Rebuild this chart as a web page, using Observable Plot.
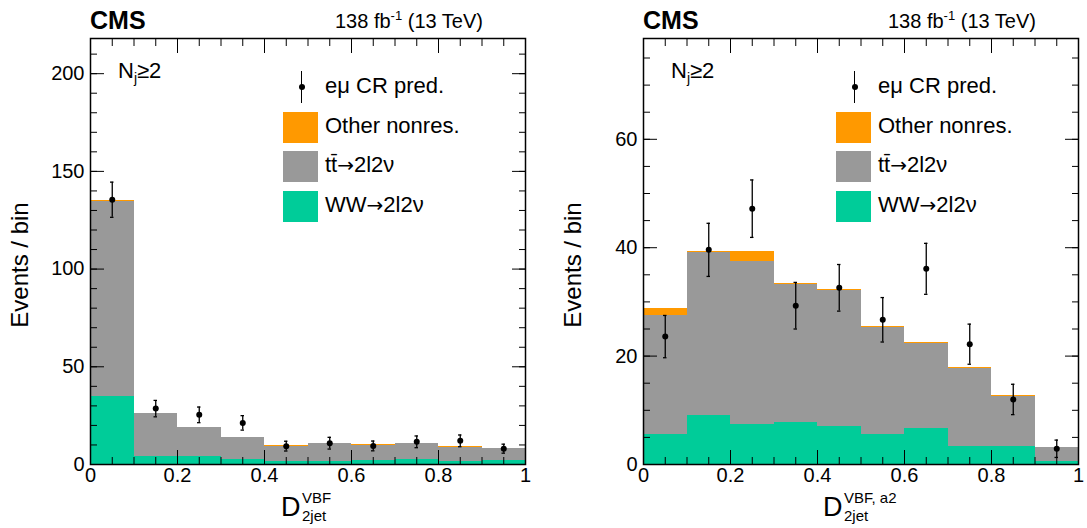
<!DOCTYPE html>
<html><head><meta charset="utf-8">
<script src="https://cdn.jsdelivr.net/npm/d3@7"></script>
<script src="https://cdn.jsdelivr.net/npm/@observablehq/plot@0.6"></script>
<style>
body{margin:0;background:#fff;font-family:"Liberation Sans",Arial,sans-serif;}
#wrap{position:relative;width:1087px;height:528px;}
.panel{position:absolute;top:0;}
.t{position:absolute;white-space:nowrap;color:#000;}
.sw{position:absolute;width:35px;height:31px;}
.ar{font-family:"DejaVu Sans",sans-serif;font-size:20px;}
</style></head><body>
<div id="wrap"></div>
<script>
const edges = [0,0.1,0.2,0.3,0.4,0.5,0.6,0.7,0.8,0.9,1.0]
const processes = ["WW→2l2ν","tt̄→2l2ν","Other nonres."]
const colors = ["#00cc99","#999999","#ff9900"]

// left panel: D_2jet^VBF
const leftWW    = [35, 4, 4, 2.5, 1.4, 1.7, 2.2, 2.5, 1.3, 2.2]
const leftTT    = [99.7, 22, 14.8, 11.3, 7.9, 8.8, 7.6, 8.2, 7.5, 5.8]
const leftOther = [0.3, 0.2, 0.2, 0.2, 0.2, 0.2, 0.2, 0.2, 0.2, 0.2]
const leftData  = [135.5, 28.6, 25.4, 21.3, 9.4, 10.9, 9.5, 11.6, 12.1, 8.1]
const leftErr   = [9, 4.2, 4, 3.7, 2.5, 3, 2.5, 3, 3, 2.3]

// right panel: D_2jet^VBF,a2
const rightWW    = [5.5, 9.0, 7.4, 7.8, 7.0, 5.6, 6.7, 3.4, 3.4, 0.55]
const rightTT    = [22.0, 30.2, 30.1, 25.5, 25.1, 19.7, 15.7, 14.4, 9.2, 2.6]
const rightOther = [1.3, 0.1, 1.8, 0.1, 0.1, 0.1, 0.1, 0.1, 0.1, 0.05]
const rightData  = [23.6, 39.6, 47.2, 29.3, 32.6, 26.7, 36.1, 22.2, 12.0, 2.9]
const rightErr   = [3.9, 4.9, 5.3, 4.3, 4.3, 4.1, 4.7, 3.7, 2.8, 1.6]

const none = () => ""

function panel(ww, tt, other, dat, err, ymax, major, minorStep, left, ml) {
  const rows = []
  for (let i = 0; i < 10; i++) {
    [ww[i], tt[i], other[i]].forEach((v, k) =>
      rows.push({x1: edges[i], x2: edges[i+1], proc: processes[k], v}))
  }
  const pts = dat.map((d, i) => ({x: (edges[i]+edges[i+1])/2, y: d, lo: d-err[i], hi: d+err[i]}))
  const minor = d3.range(0, ymax, minorStep)
  const xminor = d3.range(0, 1.0001, 0.05)
  const xmajor = d3.range(0, 1.0001, 0.2)
  const chart = Plot.plot({
    width: 544, height: 528,
    marginLeft: ml, marginRight: 544 - ml - 435, marginTop: 38, marginBottom: 64,
    style: {fontFamily: "Liberation Sans, Arial, sans-serif", fontSize: "20px", overflow: "visible"},
    x: {type: "linear", domain: [0, 1]},
    y: {type: "linear", domain: [0, ymax]},
    color: {domain: processes, range: colors},
    marks: [
      Plot.rectY(rows, {x1: "x1", x2: "x2", y: "v", fill: "proc", order: processes, shapeRendering: "crispEdges"}),
      Plot.ruleX(pts, {x: "x", y1: "lo", y2: "hi", stroke: "black", strokeWidth: 1.3}),
      Plot.ruleY(pts, {y: "lo", x1: d => d.x - 0.004, x2: d => d.x + 0.004, stroke: "black", strokeWidth: 1.3}),
      Plot.ruleY(pts, {y: "hi", x1: d => d.x - 0.004, x2: d => d.x + 0.004, stroke: "black", strokeWidth: 1.3}),
      Plot.dot(pts, {x: "x", y: "y", r: 3, fill: "black"}),
      Plot.axisX(xmajor, {tickSize: -14, tickFormat: d => d === 0 ? "0" : String(+d.toFixed(1)), tickPadding: 17, fontSize: 20, label: null}),
      Plot.axisX(xminor, {tickSize: -7, tickFormat: none, label: null}),
      Plot.axisX(xmajor, {anchor: "top", tickSize: -14, tickFormat: none, label: null}),
      Plot.axisX(xminor, {anchor: "top", tickSize: -7, tickFormat: none, label: null}),
      Plot.axisY(major, {tickSize: -14, tickPadding: 20, fontSize: 20, label: null}),
      Plot.axisY(minor, {tickSize: -7, tickFormat: none, label: null}),
      Plot.axisY(major, {anchor: "right", tickSize: -14, tickFormat: none, label: null}),
      Plot.axisY(minor, {anchor: "right", tickSize: -7, tickFormat: none, label: null}),
      Plot.frame({stroke: "black", strokeWidth: 1.5})
    ]
  })
  chart.classList.add("panel")
  chart.style.left = left + "px"
  return chart
}

const wrap = document.getElementById("wrap")
wrap.append(panel(leftWW, leftTT, leftOther, leftData, leftErr, 218, [0,50,100,150,200], 10, 0, 90))
wrap.append(panel(rightWW, rightTT, rightOther, rightData, rightErr, 78.6, [0,20,40,60], 5, 543, 100))

function txt(x, y, html, style) {
  const d = document.createElement("div")
  d.className = "t"; d.style.left = x + "px"; d.style.top = y + "px"
  d.innerHTML = html; if (style) d.style.cssText += style
  wrap.append(d)
}
function sw(x, y, c) {
  const d = document.createElement("div")
  d.className = "sw"; d.style.left = x + "px"; d.style.top = y + "px"; d.style.background = c
  wrap.append(d)
}
const legend = [["eμ CR pred.", null], ["Other nonres.", colors[2]],
  ["tt̄<span class='ar'>→</span>2l2ν", colors[1]], ["WW<span class='ar'>→</span>2l2ν", colors[0]]]
;[90, 643].forEach(fx => {
  txt(fx, 6, "CMS", "font-weight:bold;font-size:25px;")
  txt(fx + 245, 8, "138 fb<sup style='font-size:13px'>-1</sup> (13 TeV)", "font-size:20px;")
  txt(fx + 28, 58, "N<sub style='font-size:14px'>j</sub>≥2", "font-size:22px;")
  legend.forEach(([lab, c], i) => {
    const y = 87 + i * 39.5
    if (c) sw(fx + 193, y - 15, c)
    else {
      txt(fx + 211, y - 16, "", "width:0;height:32px;border-left:1.3px solid #000;")
      txt(fx + 208.5, y - 3, "", "width:6px;height:6px;border-radius:50%;background:#000;")
    }
    txt(fx + 235, y - 14, lab, "font-size:22px;")
  })
})
txt(-50, 265, "Events / bin", "font-size:24px;width:140px;text-align:center;transform:translateY(-50%) rotate(-90deg);")
txt(503, 265, "Events / bin", "font-size:24px;width:140px;text-align:center;transform:translateY(-50%) rotate(-90deg);")
function dlabel(x, sup) {
  txt(x, 492, "D", "font-size:27px;")
  txt(x + 21, 489, sup, "font-size:15px;")
  txt(x + 21, 507, "2jet", "font-size:15px;")
}
dlabel(281, "VBF")
dlabel(823, "VBF, a2")
</script>
</body></html>
